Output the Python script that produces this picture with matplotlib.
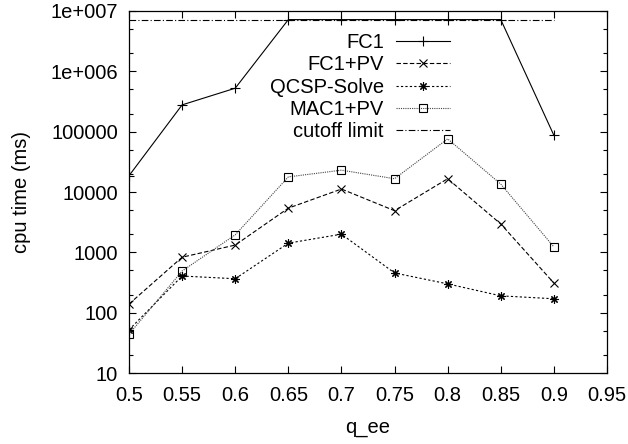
"""Recreate the gnuplot-style cpu time vs q_ee chart."""

from matplotlib import pyplot as plt
from matplotlib import ticker
import numpy as np

q_ee = [0.5, 0.55, 0.6, 0.65, 0.7, 0.75, 0.8, 0.85, 0.9]

cutoff = 7.2e6
fc1 = [18600, 278000, 525000, 7.2e6, 7.2e6, 7.2e6, 7.2e6, 7.2e6, 87000]
fc1_pv = [139, 830, 1320, 5400, 11200, 4900, 16600, 2950, 310]
qcsp_solve = [52, 405, 365, 1420, 2000, 455, 300, 190, 170]
mac1_pv = [44, 490, 1950, 17800, 23000, 16600, 76000, 13500, 1230]

x_ticks = [0.5, 0.55, 0.6, 0.65, 0.7, 0.75, 0.8, 0.85, 0.9, 0.95]
y_ticks = [10, 100, 1000, 10000, 100000, 1e6, 1e7]
y_tick_labels = ["10", "100", "1000", "10000", "100000", "1e+006", "1e+007"]

plt.rcParams['font.family'] = ['Liberation Sans', 'DejaVu Sans']
plt.rcParams['font.size'] = 14.5

fig = plt.figure(figsize=(6.28, 4.44), dpi=100)
ax = fig.add_axes([129 / 628, 71 / 444, 478 / 628, 362 / 444])

lw = 0.8
ax.plot(q_ee, fc1, color='black', lw=lw, marker='+', ms=7, mew=lw,
        label='FC1')
ax.plot(q_ee, fc1_pv, color='black', lw=lw, dashes=(4, 2), marker='x',
        ms=6, mew=lw, label='FC1+PV')
ax.plot(q_ee, qcsp_solve, color='black', lw=lw, dashes=(2, 2),
        marker=(8, 2, 0), ms=6, mew=lw, label='QCSP-Solve')
ax.plot(q_ee, mac1_pv, color='#444444', lw=lw, dashes=(1, 1), marker='s',
        ms=6, mew=lw, mfc='none', mec='black', label='MAC1+PV')
ax.plot([q_ee[0], q_ee[-1]], [cutoff, cutoff], color='black', lw=lw,
        dashes=(6, 2, 1, 2), label='cutoff limit')

ax.set_yscale('log')
ax.set_xlim(0.5, 0.95)
ax.set_ylim(10, 1e7)
ax.set_xticks(x_ticks)
ax.set_xticklabels([f"{v:g}" for v in x_ticks])
ax.yaxis.set_major_locator(ticker.FixedLocator(y_ticks))
ax.yaxis.set_major_formatter(ticker.FixedFormatter(y_tick_labels))
ax.yaxis.set_minor_locator(ticker.LogLocator(base=10, subs=(2, 5)))
ax.yaxis.set_minor_formatter(ticker.NullFormatter())

ax.tick_params(which='both', direction='in', top=True, right=True,
               width=0.8)
ax.tick_params(which='major', length=5)
ax.tick_params(which='minor', length=3)
ax.tick_params(axis='x', pad=9)
ax.tick_params(axis='y', pad=8)
for spine in ax.spines.values():
    spine.set_linewidth(0.9)

ax.set_xlabel('q_ee', labelpad=10)
ax.set_ylabel('cpu time (ms)', labelpad=14)

ax.legend(loc='upper right', bbox_to_anchor=(0.672, 0.94), frameon=False,
          markerfirst=False, handlelength=2.7, handletextpad=0.6,
          labelspacing=0.17, borderpad=0, borderaxespad=0, numpoints=1)
leg = ax.get_legend()
for t in leg.get_texts():
    t.set_ha('right')

fig.savefig('out.png', dpi=100)
